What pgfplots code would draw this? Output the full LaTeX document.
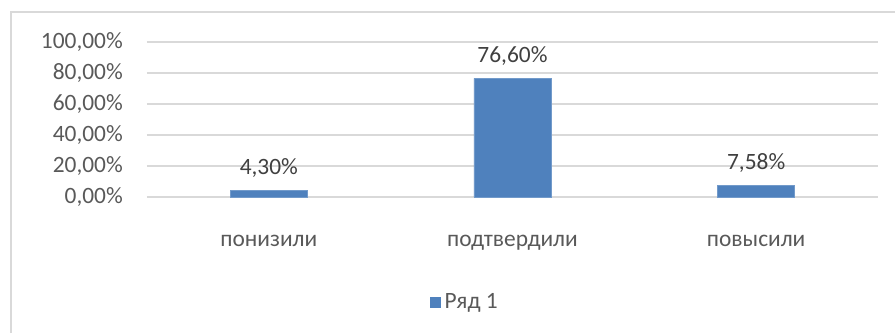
\documentclass[border=0pt]{standalone}
\usepackage{pgfplots}
\pgfplotsset{compat=1.18}
\usepackage{fontspec}
\setmainfont{Carlito}
\definecolor{barblue}{HTML}{4F81BD}
\definecolor{gridgray}{HTML}{D9D9D9}
\definecolor{ticktext}{HTML}{595959}
\definecolor{labeltext}{HTML}{404040}
\begin{document}
\fontsize{11.7}{14}\selectfont
\begin{tikzpicture}
\path[use as bounding box] (0,0) rectangle (447.5pt,166.5pt);
% chart frame (clipped on right and bottom)
\draw[gridgray, line width=1pt] (5.5pt,0) -- (5.5pt,160.5pt) -- (447.5pt,160.5pt);
\begin{axis}[
  at={(73.5pt,68pt)}, anchor=south west,
  scale only axis, width=365.5pt, height=77.5pt,
  xmin=-0.5, xmax=2.5, ymin=0, ymax=100,
  axis line style={draw=none},
  major tick length=0pt,
  ymajorgrids, grid style={gridgray, line width=0.8pt},
  ytick={0,20,40,60,80,100},
  yticklabel={\pgfmathprintnumber[fixed,fixed zerofill,precision=2,use comma]{\tick}\%},
  yticklabel style={text=ticktext, xshift=-8pt},
  xtick=data,
  xticklabels={понизили,подтвердили,повысили},
  xticklabel style={text=ticktext, yshift=-15pt},
  /pgf/number format/assume math mode=true,
  ybar, bar width=0.316,
  nodes near coords={\pgfmathprintnumber[fixed,fixed zerofill,precision=2,use comma]{\pgfplotspointmeta}\%},
  nodes near coords style={text=labeltext, anchor=south, yshift=2.5pt},
  clip=false,
  legend style={at={(0.436,-0.68)}, anchor=center, draw=none, fill=none,
    text=ticktext, legend cell align=left},
  legend image code/.code={\fill[barblue] (0pt,-2.7pt) rectangle (5pt,2.7pt);},
]
\addplot[fill=barblue, draw=barblue!80!white] coordinates {
  (0,4.30)
  (1,76.60)
  (2,7.58)
};
\addlegendentry{Ряд 1}
\end{axis}
\end{tikzpicture}
\end{document}
